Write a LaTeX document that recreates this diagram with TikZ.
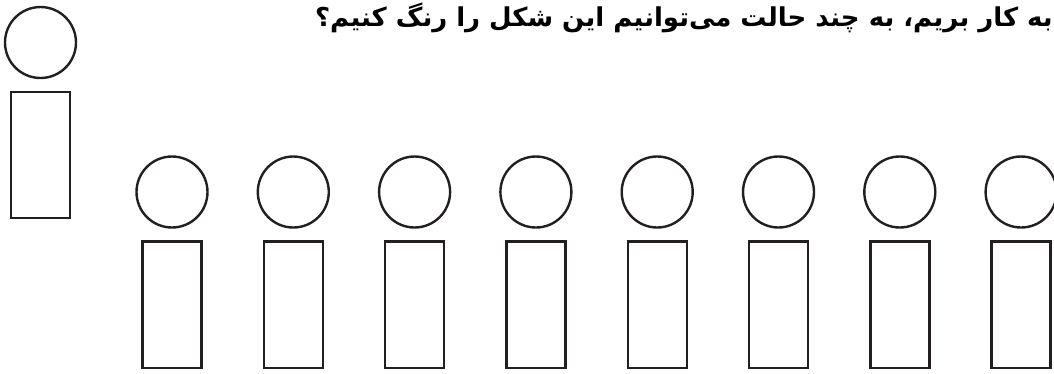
\documentclass[tikz,border=0pt]{standalone}
\usepackage{fontspec}
\TeXXeTstate=1
\newfontfamily\arabicfont[Script=Arabic]{DejaVu Sans}
\definecolor{ink}{HTML}{231F20}
\begin{document}
\begin{tikzpicture}[x=1pt,y=-1pt,
  headc/.style={draw=ink,line width=2.4pt,circle,minimum size=71pt,inner sep=0pt,outer sep=0pt},
  bodyr/.style={draw=ink,line width=2.4pt,rectangle,minimum width=59pt,minimum height=126.5pt,inner sep=0pt,outer sep=0pt}]
\useasboundingbox (0,0) rectangle (1054,373);
\clip (0,0) rectangle (1054,373);
\node[anchor=base east,inner sep=0pt,font=\arabicfont\bfseries\fontsize{26}{30}\selectfont] (q) at (1053,26)
  {\beginR به کار بریم، به چند حالت می‌توانیم این شکل را رنگ کنیم؟\endR};
\node[headc] (c0) at (40.5,42.5) {};
\node[bodyr] (r0) at (40.5,155) {};
\foreach \i in {1,...,8} {
  \node[headc] (c\i) at ({172+(\i-1)*121.3},192) {};
  \node[bodyr] (r\i) at ({172+(\i-1)*121.3},304.6) {};
}
\end{tikzpicture}
\end{document}
